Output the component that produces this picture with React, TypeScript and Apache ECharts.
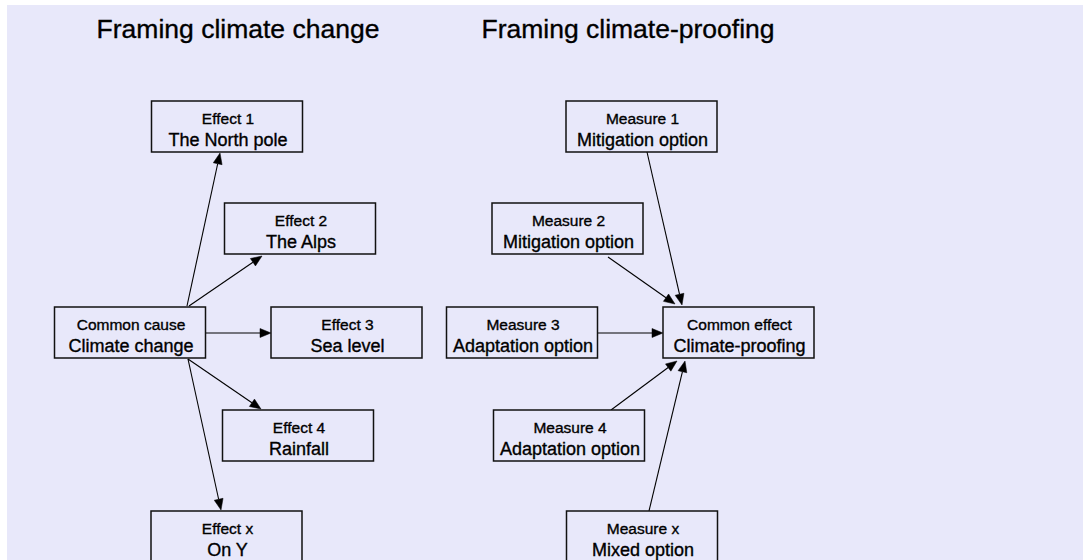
import React, { useEffect, useRef } from "react";
import * as echarts from "echarts";

// Diagram titles
const panelTitles = ["Framing climate change", "Framing climate-proofing"];
const panelTitleX = [238, 628];

// Boxes (centre positions in diagram units) and their two text lines
const boxX = [227, 300, 130, 346.5, 298, 226.5, 641.5, 567.5, 522, 738.5, 569, 642];
const boxY = [126.5, 228.5, 332.5, 332.5, 435.5, 536.5, 126.5, 228.5, 332.5, 332.5, 435.5, 536.5];
const boxTop = [
  "Effect 1", "Effect 2", "Common cause", "Effect 3", "Effect 4", "Effect x",
  "Measure 1", "Measure 2", "Measure 3", "Common effect", "Measure 4", "Measure x",
];
const boxBottom = [
  "The North pole", "The Alps", "Climate change", "Sea level", "Rainfall", "On Y",
  "Mitigation option", "Mitigation option", "Adaptation option", "Climate-proofing", "Adaptation option", "Mixed option",
];

// Arrows: start point and end (tip) point
const arrowFromX = [187, 189, 206, 188, 188, 647, 608, 597, 611, 649];
const arrowFromY = [306, 306, 333, 359, 359, 152, 257, 333, 410, 511];
const arrowToX = [220, 262, 271, 261, 221, 682, 675, 663, 677, 685];
const arrowToY = [153, 256, 333, 409, 510, 305, 304, 333, 361, 361];

const FONT = '"Liberation Sans", Arial, Helvetica, sans-serif';
const BG = "#e8e8fa";
const BOX_W = 151;
const BOX_H = 51;
const HEAD_L = 11;
const HEAD_W = 4.5;

export default function App() {
  const ref = useRef<HTMLDivElement>(null);

  useEffect(() => {
    if (!ref.current) return;
    const chart = echarts.init(ref.current, undefined, { renderer: "svg" });

    const boxData = boxX.map((x, i) => [x, boxY[i]]);
    const arrowData = arrowFromX.map((x, i) => [x, arrowFromY[i], arrowToX[i], arrowToY[i]]);

    const textStyle = (text: string, size: number) => ({
      text,
      fill: "#000",
      fontSize: size,
      fontFamily: FONT,
      align: "center",
      verticalAlign: "middle",
      stroke: "#000",
      lineWidth: 0.35,
    });

    chart.setOption({
      animation: false,
      backgroundColor: "#ffffff",
      grid: { left: 0, right: 0, top: 0, bottom: 0, containLabel: false },
      xAxis: { type: "value", min: 0, max: 1085, show: false },
      yAxis: { type: "value", min: 0, max: 560, inverse: true, show: false },
      graphic: [
        {
          type: "rect",
          z: -10,
          shape: { x: 7, y: 5, width: 1076, height: 555 },
          style: { fill: BG },
          silent: true,
        },
        ...panelTitles.map((t, i) => ({
          type: "text",
          x: panelTitleX[i],
          y: 29,
          style: textStyle(t, 26.5),
        })),
      ],
      series: [
        {
          type: "custom",
          name: "arrows",
          coordinateSystem: "cartesian2d",
          encode: { x: [0, 2], y: [1, 3] },
          data: arrowData,
          silent: true,
          renderItem: (params: any, api: any) => {
            const p1 = api.coord([api.value(0), api.value(1)]);
            const p2 = api.coord([api.value(2), api.value(3)]);
            const dx = p2[0] - p1[0];
            const dy = p2[1] - p1[1];
            const len = Math.sqrt(dx * dx + dy * dy) || 1;
            const ux = dx / len;
            const uy = dy / len;
            const bx = p2[0] - ux * HEAD_L;
            const by = p2[1] - uy * HEAD_L;
            const nx = -uy;
            const ny = ux;
            return {
              type: "group",
              children: [
                {
                  type: "line",
                  shape: { x1: p1[0], y1: p1[1], x2: bx, y2: by },
                  style: { stroke: "#000", lineWidth: 1.1 },
                },
                {
                  type: "polygon",
                  shape: {
                    points: [
                      [p2[0], p2[1]],
                      [bx + nx * HEAD_W, by + ny * HEAD_W],
                      [bx - nx * HEAD_W, by - ny * HEAD_W],
                    ],
                  },
                  style: { fill: "#000", stroke: "#000", lineWidth: 0.5 },
                },
              ],
            };
          },
        },
        {
          type: "custom",
          name: "boxes",
          coordinateSystem: "cartesian2d",
          encode: { x: 0, y: 1 },
          data: boxData,
          silent: true,
          z: 3,
          renderItem: (params: any, api: any) => {
            const i = params.dataIndex;
            const c = api.coord([api.value(0), api.value(1)]);
            return {
              type: "group",
              children: [
                {
                  type: "rect",
                  shape: { x: c[0] - BOX_W / 2, y: c[1] - BOX_H / 2, width: BOX_W, height: BOX_H },
                  style: { fill: BG, stroke: "#111", lineWidth: 1.5 },
                },
                {
                  type: "text",
                  x: c[0] + 1,
                  y: c[1] - 8,
                  style: textStyle(boxTop[i], 15.5),
                },
                {
                  type: "text",
                  x: c[0] + 1,
                  y: c[1] + 13,
                  style: textStyle(boxBottom[i], 18),
                },
              ],
            };
          },
        },
      ],
    });

    return () => {
      chart.dispose();
    };
  }, []);

  return (
    <div
      ref={ref}
      style={{ position: "absolute", left: 0, top: 0, width: 1085, height: 560 }}
    />
  );
}
